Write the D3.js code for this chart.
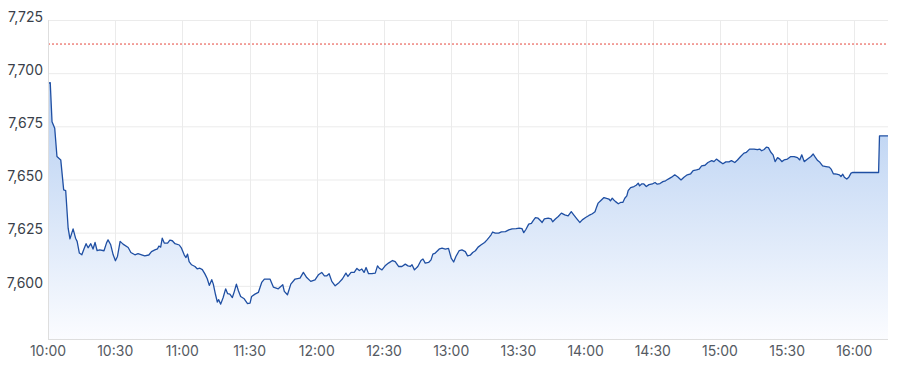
<!DOCTYPE html>
<html>
<head>
<meta charset="utf-8">
<script src="https://cdn.jsdelivr.net/npm/d3@7"></script>
<style>
  html, body { margin: 0; padding: 0; background: #fff; }
  svg { display: block; font-family: Inter, "Noto Sans", sans-serif; }
</style>
</head>
<body>
<svg id="chart" width="900" height="375"></svg>
<script>
// minutes after 10:00
const minutes = [0,1,1.8,3,4,5.7,7,7.9,9,9.8,11.2,12.3,13,14,15.1,16.1,17,17.9,19.1,20.1,21,21.9,23.1,25,26.1,26.8,28,29.1,30.1,31,32.2,33.5,35.8,37,38.8,40.2,41.8,43.2,45,46.2,47.7,48.9,49.5,50.3,51,51.9,53.4,54.4,55.5,56.7,58.6,59.6,60.8,61.6,62.3,63,64.1,65.6,66.6,67.8,68.9,70.1,71.1,72,73.1,73.8,74.8,75.6,76.2,77.1,78.2,79.3,80.2,81.2,82.3,83.2,84.1,85,86,87.6,89,90.2,90.9,92.4,93.9,95.4,96.6,99.1,100.6,102.8,104.8,105.5,106.9,108.4,110.3,112.5,114,115.5,117.3,119.2,120.7,122.2,123.4,124.5,125.5,126.7,128.2,130,131.4,133,133.9,135.3,136.7,137.9,139,140.1,141.1,142,143.1,144.6,146.1,147.1,147.9,149.1,150.5,152,153.8,155,156.5,158,159.5,160.7,161.7,162.5,163.6,165.1,166.5,167.4,168.4,169.9,171,171.8,172.9,174.8,175.9,177.4,178.8,180,181.1,182.1,183.6,184.8,186.3,187.3,188.5,189.6,190.8,192,193.4,194.9,196,197,197.8,198.5,199.7,201.2,202.4,204.2,205.7,207.2,209,210.4,211.6,212.4,213.4,214.6,215.8,216.6,217.6,218.8,219.8,220.6,221.6,223.3,224.6,225.3,226.5,227.8,229.2,230.7,232.2,233.6,234.7,236.2,237.4,238.5,240,241.5,243,244.2,244.9,245.6,246.7,248.2,249.4,250.4,251.1,251.9,252.6,253.4,254.6,255.6,256.6,257.5,258.4,259,260.1,261.6,262.6,263.5,264.1,265,266,267.1,268.3,269.8,271,272,273.2,274.5,275.7,276.9,278.4,279.8,281.2,282.6,283.9,285.4,286.9,288,289.5,290.7,291.8,293.3,294.6,296.3,297.3,298.4,299.9,301.3,302.6,304,305.1,306.6,307.8,309.2,310.7,311.8,313.2,315.2,316.7,317.7,318.6,319.7,320.7,321.6,322.7,323.7,324.6,325.7,326.7,327.6,328.6,330.1,331.6,333.1,334.6,335.6,336.5,337.6,339.1,340.6,341.6,342.5,343.6,344.6,345.8,347.3,348.8,349.6,350.6,352.1,353.3,354,354.8,355.5,356.6,357.5,358.5,359.3,370.8,371.2,375];
const prices = [7695.3,7695.5,7677.2,7674.1,7660.8,7659.2,7645.1,7644.8,7627.1,7622.1,7626.8,7622.4,7620.9,7615.4,7614.6,7617.4,7619.8,7617.9,7619.8,7617.3,7620.4,7616.6,7616.9,7616.5,7620.1,7621.6,7619.3,7614.6,7611.8,7613.8,7620.9,7619.6,7618.0,7615.7,7614.6,7615.1,7614.6,7614.1,7614.5,7616.1,7616.9,7617.4,7618.7,7618.2,7622.4,7620.1,7620.1,7621.5,7621.2,7619.8,7619.2,7617.7,7614.6,7613.3,7614.9,7611.4,7609.9,7609.1,7608.0,7608.3,7607.6,7605.5,7603.3,7600.2,7602.9,7600.8,7595.8,7592.4,7593.5,7591.4,7594.5,7598.6,7596.3,7596.1,7594.5,7597.4,7600.8,7597.7,7595.0,7593.9,7591.7,7591.9,7595.0,7596.1,7596.9,7601.6,7603.2,7603.2,7599.4,7598.6,7600.5,7597.4,7595.8,7600.8,7603.2,7603.6,7606.3,7603.9,7602.1,7602.8,7605.2,7606.3,7604.7,7604.7,7605.7,7602.1,7600.0,7601.6,7603.2,7606.0,7604.4,7606.3,7606.3,7608.2,7607.2,7607.9,7606.3,7608.6,7605.7,7605.7,7606.0,7609.4,7608.3,7607.5,7609.4,7610.7,7611.9,7611.4,7609.1,7609.1,7610.2,7609.4,7609.1,7609.9,7607.5,7609.1,7611.9,7612.6,7610.7,7611.0,7612.2,7614.9,7615.4,7617.4,7617.7,7617.3,7617.6,7613.0,7611.2,7613.8,7616.6,7616.9,7616.1,7614.1,7614.4,7615.7,7616.5,7618.2,7619.3,7620.4,7621.6,7622.9,7624.0,7625.3,7624.8,7624.8,7625.4,7625.5,7626.3,7626.8,7626.9,7627.1,7626.9,7625.0,7626.6,7629.0,7629.4,7630.7,7632.1,7631.8,7630.7,7629.8,7631.5,7631.8,7631.5,7630.1,7631.4,7632.6,7634.2,7633.4,7632.9,7634.9,7633.4,7631.4,7629.8,7631.0,7632.1,7633.1,7633.9,7634.8,7637.0,7638.9,7640.0,7641.5,7641.1,7640.8,7640.0,7641.2,7640.4,7639.6,7638.6,7639.2,7639.2,7641.2,7642.3,7644.8,7646.2,7646.7,7647.3,7648.3,7647.0,7647.9,7647.9,7646.7,7647.6,7647.9,7648.6,7647.8,7648.1,7649.0,7649.4,7650.2,7651.1,7652.2,7651.2,7649.8,7651.1,7652.2,7652.7,7654.2,7654.5,7654.9,7656.4,7656.7,7658.0,7658.9,7658.4,7659.6,7658.4,7657.4,7658.3,7658.3,7658.9,7658.0,7659.2,7660.8,7662.4,7662.8,7664.3,7664.3,7664.0,7664.3,7663.5,7664.1,7665.2,7665.0,7662.8,7661.6,7658.4,7660.3,7659.6,7658.4,7659.2,7659.6,7660.8,7660.8,7660.3,7659.2,7661.6,7658.4,7659.6,7660.8,7662.0,7660.5,7658.9,7658.1,7656.4,7656.1,7655.8,7654.9,7652.7,7652.5,7652.2,7651.4,7652.5,7651.1,7650.2,7651.1,7653.0,7653.3,7653.3,7670.5,7670.5];
const referenceLevel = 7713.7;
const yTicks = [7600, 7625, 7650, 7675, 7700, 7725];
const xTickMinutes = [0, 30, 60, 90, 120, 150, 180, 210, 240, 270, 300, 330, 360];
const xTickLabels = ["10:00","10:30","11:00","11:30","12:00","12:30","13:00","13:30","14:00","14:30","15:00","15:30","16:00"];

(function () {
const data = minutes.map((m, i) => ({ m, v: prices[i] }));

const svg = d3.select("#chart");
const pLeft = 48, pRight = 888, pTop = 20, pBottom = 339;

const x = d3.scaleLinear().domain([0, 375]).range([pLeft, pRight]);
const y = d3.scaleLinear().domain([7575, 7725]).range([pBottom, pTop]);

// gradient
const defs = svg.append("defs");
const grad = defs.append("linearGradient").attr("id", "areaGrad")
  .attr("gradientUnits", "userSpaceOnUse")
  .attr("x1", 0).attr("x2", 0).attr("y1", y(7697)).attr("y2", pBottom);
grad.append("stop").attr("offset", "0%").attr("stop-color", "#b3cdf1");
grad.append("stop").attr("offset", "100%").attr("stop-color", "#fbfcff");

// grid
const gGrid = svg.append("g");
gGrid.selectAll("line.h").data(yTicks).join("line")
  .attr("x1", pLeft).attr("x2", pRight)
  .attr("y1", d => y(d) + 0.5).attr("y2", d => y(d) + 0.5)
  .attr("stroke", "#ebebeb").attr("stroke-width", 1);
gGrid.selectAll("line.v").data(xTickMinutes).join("line")
  .attr("x1", d => Math.round(x(d)) + 0.5).attr("x2", d => Math.round(x(d)) + 0.5)
  .attr("y1", pTop).attr("y2", pBottom)
  .attr("stroke", "#ebebeb").attr("stroke-width", 1);

// area and line
const area = d3.area().x(d => x(d.m)).y0(pBottom).y1(d => y(d.v));
const line = d3.line().x(d => x(d.m)).y(d => y(d.v));

svg.append("path").datum(data).attr("d", area).attr("fill", "url(#areaGrad)");
svg.append("path").datum(data).attr("d", line)
  .attr("fill", "none").attr("stroke", "#1f4fa3").attr("stroke-width", 1.3)
  .attr("stroke-linejoin", "round");

// reference dotted line
svg.append("line")
  .attr("x1", pLeft).attr("x2", pRight)
  .attr("y1", y(referenceLevel)).attr("y2", y(referenceLevel))
  .attr("stroke", "#e5473d").attr("stroke-width", 1)
  .attr("stroke-dasharray", "2,2");

// axis lines
svg.append("line").attr("x1", pLeft + 0.5).attr("x2", pLeft + 0.5).attr("y1", pTop).attr("y2", pBottom)
  .attr("stroke", "#dedede");
svg.append("line").attr("x1", pLeft).attr("x2", pRight).attr("y1", pBottom + 0.5).attr("y2", pBottom + 0.5)
  .attr("stroke", "#dedede");

// y labels
svg.append("g").selectAll("text").data(yTicks).join("text")
  .attr("x", 43).attr("y", d => y(d) - 2)
  .attr("text-anchor", "end").attr("dominant-baseline", "middle")
  .attr("font-size", 14).attr("fill", "#3a3f4a")
  .text(d => d3.format(",")(d));

// x labels
svg.append("g").selectAll("text").data(xTickMinutes).join("text")
  .attr("x", d => x(d)).attr("y", 352)
  .attr("text-anchor", "middle").attr("dominant-baseline", "middle")
  .attr("font-size", 14).attr("fill", "#555a62")
  .text((d, i) => xTickLabels[i]);
})();
</script>
</body>
</html>
